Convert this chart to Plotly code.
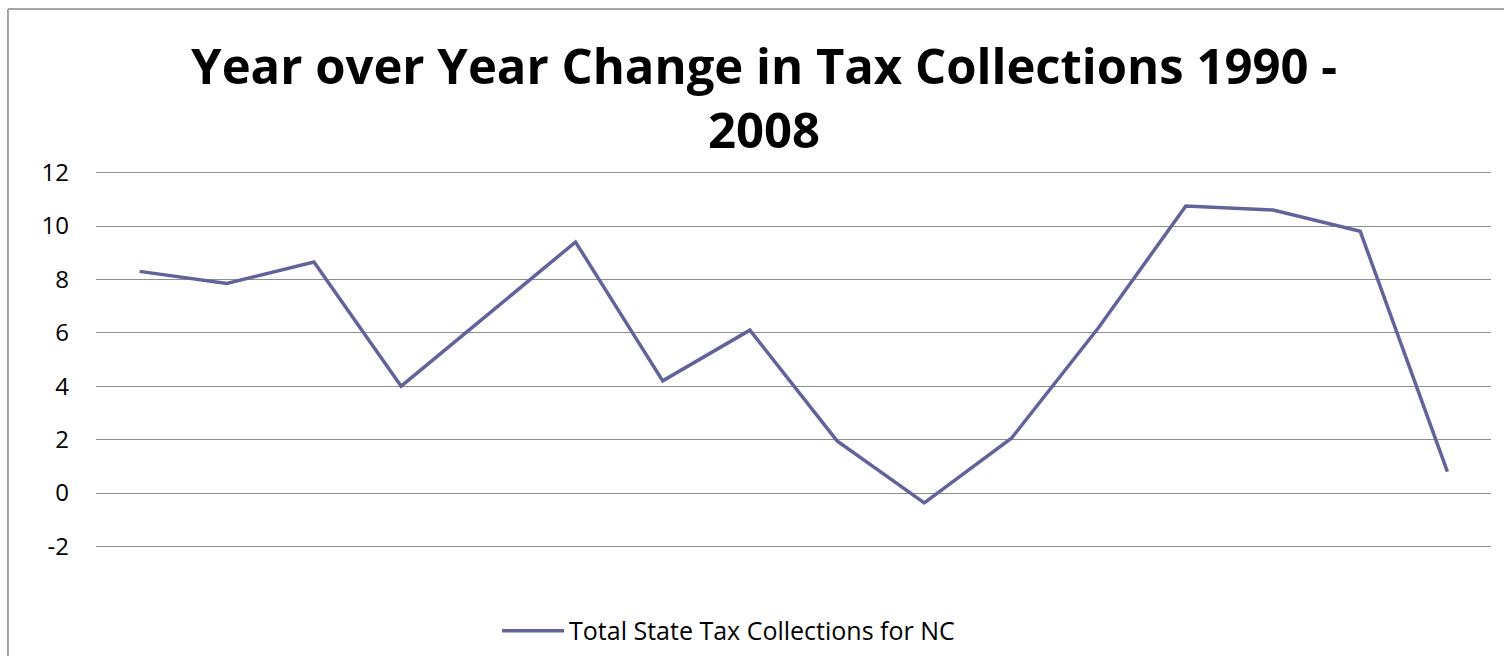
import plotly.graph_objects as go

# Year-over-year percent change in total NC state tax collections
years = [str(y) for y in range(1993, 2009)]
pct_change = [8.3, 7.85, 8.65, 4.0, 6.7, 9.4, 4.2, 6.1, 1.95, -0.37, 2.05, 6.2, 10.75, 10.6, 9.8, 0.8]
y_ticks = [-2, 0, 2, 4, 6, 8, 10, 12]
y_tick_text = [str(v) for v in y_ticks]

series_name = "Total State Tax Collections for NC"
line_color = "#63639c"
grid_color = "#8e8e8e"

fig = go.Figure()
fig.add_trace(go.Scatter(
    x=years,
    y=pct_change,
    mode="lines",
    name=series_name,
    line=dict(color=line_color, width=3.5),
    showlegend=True,
))

# Chart-area border (left and top edges)
fig.add_shape(type="line", xref="paper", yref="paper",
              x0=-0.0631, x1=-0.0631, y0=1.43, y1=-0.32,
              line=dict(color="#878787", width=1.5))
fig.add_shape(type="line", xref="paper", yref="paper",
              x0=-0.0631, x1=1.02, y0=1.43, y1=1.43,
              line=dict(color="#878787", width=1.5))

fig.update_layout(
    width=1504,
    height=656,
    margin=dict(l=96, r=13, t=171, b=108, autoexpand=False),
    paper_bgcolor="white",
    plot_bgcolor="white",
    title=dict(
        text="Year over Year Change in Tax Collections 1990 -<br>2008",
        x=0.508,
        xanchor="center",
        y=0.872,
        yanchor="top",
        font=dict(family="Open Sans", size=49, color="black", weight=700),
    ),
    xaxis=dict(
        type="category",
        range=[-0.5, 15.5],
        showticklabels=False,
        showgrid=False,
        zeroline=False,
        showline=False,
        ticks="",
    ),
    yaxis=dict(
        range=[-2.06, 12.06],
        tickvals=y_ticks,
        ticktext=y_tick_text,
        showgrid=True,
        gridcolor=grid_color,
        gridwidth=1,
        zeroline=False,
        showline=False,
        ticks="",
        ticklabelstandoff=26,
        tickfont=dict(family="Open Sans", size=24, color="black"),
    ),
    legend=dict(
        orientation="h",
        x=0.2875,
        xanchor="left",
        y=-0.22,
        yanchor="middle",
        itemwidth=62,
        font=dict(family="Open Sans", size=25, color="black"),
        bgcolor="rgba(0,0,0,0)",
    ),
)

fig.write_html("out.html")
